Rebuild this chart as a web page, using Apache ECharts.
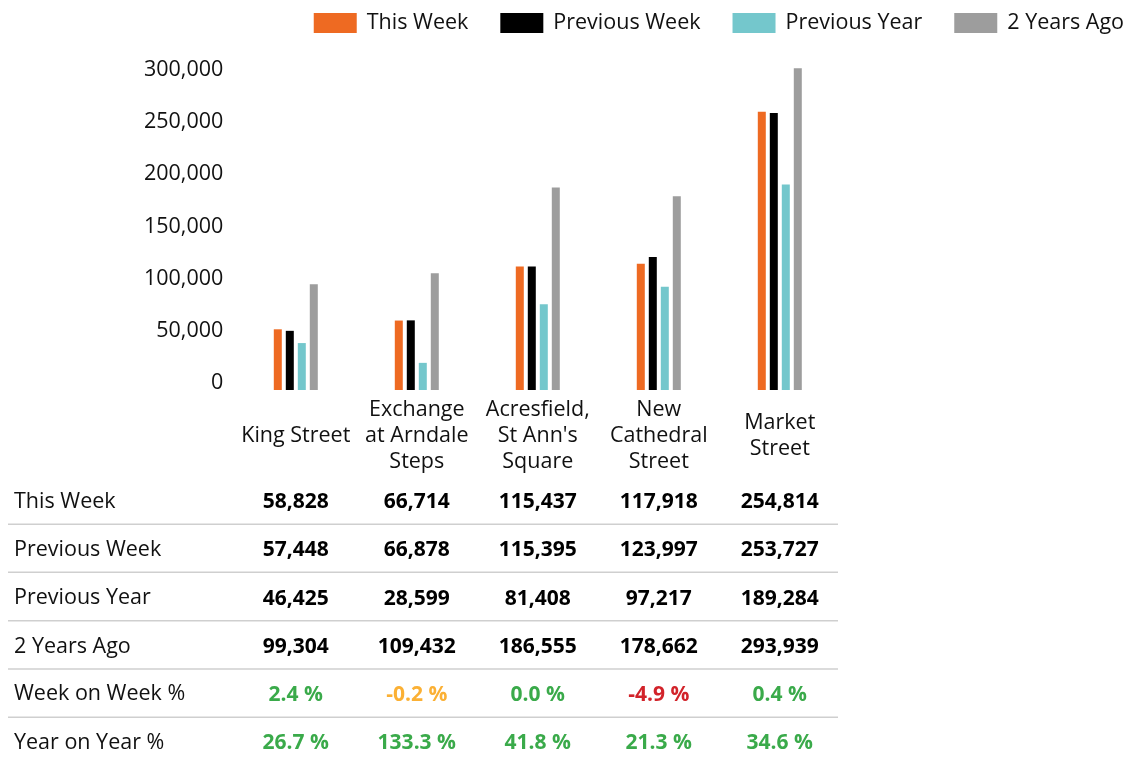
<!DOCTYPE html>
<html>
<head>
<meta charset="utf-8">
<script src="https://cdn.jsdelivr.net/npm/echarts@6/dist/echarts.min.js"></script>
<style>
html,body{margin:0;padding:0;background:#fff;}
#chart{width:1127px;height:762px;}
</style>
</head>
<body>
<div id="chart"></div>
<script>
var categories = ['King Street', 'Exchange\nat Arndale\nSteps', "Acresfield,\nSt Ann's\nSquare", 'New\nCathedral\nStreet', 'Market\nStreet'];
var seriesNames = ['This Week', 'Previous Week', 'Previous Year', '2 Years Ago'];
var thisWeek = [58828, 66714, 115437, 117918, 254814];
var previousWeek = [57448, 66878, 115395, 123997, 253727];
var previousYear = [46425, 28599, 81408, 97217, 189284];
var twoYearsAgo = [99304, 109432, 186555, 178662, 293939];
var weekOnWeek = [2.4, -0.2, 0.0, -4.9, 0.4];
var yearOnYear = [26.7, 133.3, 41.8, 21.3, 34.6];
var yTickLabels = [0, 50000, 100000, 150000, 200000, 250000, 300000];
var rowTitles = ['This Week', 'Previous Week', 'Previous Year', '2 Years Ago', 'Week on Week %', 'Year on Year %'];

var FONT = '"Open Sans"';
var FS = 21.5;
var FSB = 21;
var colors = ['#ee6a22', '#000000', '#74c7cc', '#9d9d9d'];
var chart = echarts.init(document.getElementById('chart'));

function fmtNum(v) { return v.toLocaleString('en-US'); }
function pctStyle(v) { return v >= 0 ? 'g' : (v > -1 ? 'o' : 'r'); }
var pctRich = {
  g: {color: '#3aaa4a', fontWeight: 'bold', fontSize: FSB, fontFamily: FONT},
  o: {color: '#fbb034', fontWeight: 'bold', fontSize: FSB, fontFamily: FONT},
  r: {color: '#d2232a', fontWeight: 'bold', fontSize: FSB, fontFamily: FONT}
};

var rows = [thisWeek, previousWeek, previousYear, twoYearsAgo, weekOnWeek, yearOnYear];
var rowCenters = [500.7, 549, 597.3, 645.7, 693.3, 741.7];
var gridBottomY = 390;

var xAxes = [{
  type: 'category', gridIndex: 0, data: categories, position: 'bottom',
  axisLine: {show: false}, axisTick: {show: false},
  axisLabel: {interval: 0, margin: 46, verticalAlign: 'middle', lineHeight: 26, fontSize: FS, color: '#111', fontFamily: FONT}
}];
rows.forEach(function (row, r) {
  xAxes.push({
    type: 'category', gridIndex: 0, data: categories, position: 'bottom',
    axisLine: {show: false}, axisTick: {show: false},
    axisLabel: {
      interval: 0, margin: rowCenters[r] - gridBottomY + 1.5, verticalAlign: 'middle',
      fontSize: FSB, fontWeight: 'bold', color: '#000', fontFamily: FONT,
      rich: pctRich,
      formatter: function (val, idx) {
        var v = row[idx];
        if (r >= 4) return '{' + pctStyle(v) + '|' + v.toFixed(1) + ' %}';
        return fmtNum(v);
      }
    }
  });
});
xAxes.push({type: 'category', gridIndex: 1, data: categories, show: false});

var graphics = [];
rowTitles.forEach(function (t, i) {
  graphics.push({type: 'text', x: 14, y: rowCenters[i] + 1, style: {text: t, fontSize: FS, fontFamily: FONT, fill: '#111', verticalAlign: 'middle', align: 'left'}});
});
[524.3, 572.3, 620.7, 669, 717.3].forEach(function (y) {
  graphics.push({type: 'line', shape: {x1: 8, y1: y, x2: 838, y2: y}, style: {stroke: '#cfcfcf', lineWidth: 1.5}});
});

var data = [thisWeek, previousWeek, previousYear, twoYearsAgo];
chart.setOption({
  animation: false,
  color: colors,
  textStyle: {fontFamily: FONT},
  legend: {
    data: seriesNames, right: 3, top: 12, padding: 0, icon: 'rect', itemWidth: 43, itemHeight: 20, itemGap: 32,
    textStyle: {fontSize: FS, color: '#111', fontFamily: FONT, padding: [0, 0, 0, 5]}
  },
  grid: [
    {left: 235.3, right: 286.7, top: 61.6, bottom: 762 - gridBottomY},
    {left: 235.3, right: 286.7, top: 70, bottom: 762 - 383}
  ],
  xAxis: xAxes,
  yAxis: [
    {type: 'value', gridIndex: 0, min: 4144, max: 300000, show: false},
    {type: 'value', gridIndex: 1, min: 0, max: 300000, interval: 50000,
     axisLine: {show: false}, axisTick: {show: false}, splitLine: {show: false},
     axisLabel: {margin: 12, fontSize: FS, color: '#111', fontFamily: FONT, formatter: function (v) { return fmtNum(v); }}}
  ],
  series: data.map(function (d, i) {
    return {name: seriesNames[i], type: 'bar', xAxisIndex: 0, yAxisIndex: 0, data: d, barWidth: 8, barGap: '50%', clip: true};
  }),
  graphic: graphics
});
</script>
</body>
</html>
